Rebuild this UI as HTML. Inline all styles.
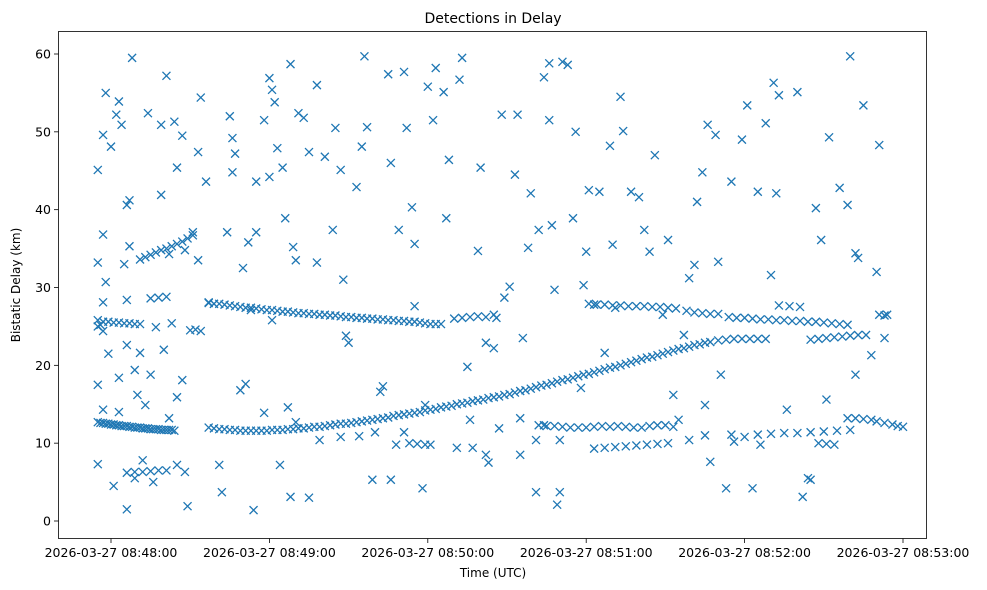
<!DOCTYPE html>
<html><head><meta charset="utf-8"><style>
html,body{margin:0;padding:0;background:#fff;}
svg{display:block;font-family:"DejaVu Sans","Liberation Sans",sans-serif;}
</style></head><body>
<svg id="chart" width="987" height="590" xmlns="http://www.w3.org/2000/svg">
<rect x="0" y="0" width="987" height="590" fill="#fff"/>
<text x="493" y="23" text-anchor="middle" font-size="14">Detections in Delay</text>
<g id="marks"></g>
<g id="axes"></g>
<text x="493" y="577" text-anchor="middle" font-size="12">Time (UTC)</text>
<text x="20" y="285" text-anchor="middle" font-size="12" transform="rotate(-90 20 285)">Bistatic Delay (km)</text>
</svg>
<script>
// seconds after 08:48:00, delay km
const mainTrack = [[-5,12.7],[-4,12.6],[-3,12.6],[-2,12.5],[-1,12.5],[0,12.4],[1,12.4],[2,12.3],[3,12.3],[4,12.2],[5,12.2],[6,12.2],[7,12.1],[8,12.1],[9,12.0],[10,12.0],[11,12.0],[12,11.9],[13,11.9],[14,11.9],[15,11.8],[16,11.8],[17,11.8],[18,11.8],[19,11.7],[20,11.7],[21,11.7],[22,11.7],[23,11.7],[24,11.6],
[37,12.0],[39,11.9],[41,11.8],[43,11.8],[45,11.7],[47,11.7],[49,11.6],[51,11.6],[53,11.6],[55,11.6],[57,11.6],[59,11.6],[61,11.7],[63,11.7],[65,11.7],[67,11.8],[69,11.8],[71,11.9],[73,11.9],[75,12.0],[77,12.1],[79,12.1],[81,12.2],[83,12.3],[85,12.4],[87,12.5],[89,12.5],[91,12.6],[93,12.7],[95,12.8],[97,12.9],[99,13.0],[101,13.1],[103,13.2],[105,13.3],[107,13.5],[109,13.6],[111,13.7],[113,13.8],[115,13.9],[117,14.0],[119,14.2],[121,14.3],[123,14.4],[125,14.6],[127,14.7],[129,14.8],[131,15.0],[133,15.1],[135,15.2],[137,15.4],[139,15.5],[141,15.6],[143,15.8],[145,15.9],[147,16.0],[149,16.2],[151,16.3],[153,16.5],[155,16.7],[157,16.8],[159,17.0],[161,17.2],[163,17.4],[165,17.5],[167,17.7],[169,17.9],[171,18.1],[173,18.2],[175,18.4],[177,18.6],[179,18.8],[181,18.9],[183,19.1],[185,19.3],[187,19.5],[189,19.7],[191,19.8],[193,20.0],[195,20.2],[197,20.4],[199,20.6],[201,20.8],[203,21.0],[205,21.1],[207,21.3],[209,21.5],[211,21.7],[213,21.9],[215,22.1],[217,22.2],[219,22.4],[221,22.6],[223,22.7],[225,22.9],[227,23.0],[230,23.2],[233,23.3],[236,23.4],[239,23.4],[242,23.4],[245,23.4],[248,23.4],[265,23.3],[268,23.4],[271,23.5],[274,23.6],[277,23.7],[280,23.8],[283,23.9],[286,23.9]];
const upperTrack = [[-5,25.8],[-3,25.6],[-1,25.6],[1,25.5],[3,25.5],[5,25.4],[7,25.4],[9,25.3],[11,25.3],[-5,25.0],[-4,25.2],
[11,33.6],[13,33.9],[15,34.2],[17,34.5],[19,34.8],[21,35.0],[23,35.3],[25,35.6],[27,35.9],[29,36.3],[31,36.7],
[15,28.6],[18,28.7],[21,28.8],[30,24.5],[32,24.6],[34,24.4],
[37,28.0],[39,27.9],[41,27.9],[43,27.8],[45,27.7],[47,27.6],[49,27.5],[51,27.4],[53,27.4],[55,27.3],[57,27.2],[59,27.1],[61,27.1],[63,27.0],[65,26.9],[67,26.9],[69,26.8],[71,26.7],[73,26.7],[75,26.6],[77,26.6],[79,26.5],[81,26.5],[83,26.4],[85,26.4],[87,26.3],[89,26.2],[91,26.2],[93,26.1],[95,26.1],[97,26.0],[99,26.0],[101,25.9],[103,25.9],[105,25.8],[107,25.8],[109,25.7],[111,25.7],[113,25.6],[115,25.6],[117,25.5],[119,25.4],[121,25.3],[123,25.3],[125,25.3],
[130,26.0],[133,26.1],[136,26.2],[139,26.3],[142,26.2],[145,26.5],
[181,27.9],[184,27.8],[187,27.8],[190,27.7],[193,27.7],[196,27.6],[199,27.6],[202,27.6],[205,27.5],[208,27.5],[211,27.4],[214,27.3],[218,27.0],[221,26.8],[224,26.7],[227,26.6],[230,26.6],
[234,26.2],[237,26.1],[240,26.1],[243,26.0],[246,25.9],[249,25.9],[252,25.8],[255,25.8],[258,25.7],[261,25.7],[264,25.6],[267,25.6],[270,25.5],[273,25.4],[276,25.3],[279,25.2],[253,27.7],[257,27.6],[261,27.5],[291,26.5],[293,26.4]];
const lowerTracks = [[162,12.3],[165,12.2],[168,12.2],[171,12.1],[174,12.0],[177,12.0],[180,12.0],[183,12.1],[186,12.2],[189,12.1],[192,12.2],[195,12.1],[198,12.0],[201,12.0],[204,12.2],[207,12.3],[210,12.3],[213,12.1],
[183,9.3],[187,9.4],[191,9.5],[195,9.6],[199,9.7],[203,9.8],[207,9.9],[211,10.0],[113,10.0],[116,9.9],[119,9.8],
[225,11.0],[235,11.1],[245,11.1],[250,11.2],[255,11.3],[260,11.3],[265,11.4],[270,11.5],[275,11.6],[280,11.7],[268,10.0],[271,9.9],[274,9.8],
[279,13.2],[282,13.2],[285,13.1],[288,13.0],[290,12.8],[293,12.6],[296,12.4],[298,12.2],[300,12.1],
[6,6.2],[9,6.3],[12,6.3],[15,6.4],[18,6.5],[21,6.5]];
const scatterPoints = [[-5,45.1],[-5,17.5],[-5,7.3],[-5,33.2],[-3,36.8],[-3,28.1],[-3,24.4],[-3,14.3],[-2,55.0],[-3,49.6],[-2,30.7],[-1,21.5],[0,48.1],[1,4.5],[2,52.2],[3,53.9],[4,50.9],[3,18.4],[3,14.0],[5,33.0],[6,40.6],[6,1.5],[7,35.3],[7,41.2],[8,59.5],[6,28.4],[6,22.6],[9,19.4],[9,5.5],[10,16.2],[11,21.6],[12,7.8],[13,14.9],[14,52.4],[15,18.8],[16,5.0],[17,24.9],[19,41.9],[19,50.9],[21,57.2],[20,22.0],[22,13.2],[22,34.3],[23,25.4],[24,51.3],[25,45.4],[25,15.9],[25,7.2],[27,49.5],[27,18.1],[28,6.3],[28,34.8],[29,1.9],[31,37.1],[33,47.4],[33,33.5],[34,54.4],[36,43.6],[37,28.1],[39,27.9],[41,7.2],[42,3.7],[44,37.1],[45,52.0],[46,44.8],[46,49.2],[47,47.2],[49,16.8],[50,32.5],[51,17.6],[52,35.8],[53,27.1],[54,1.4],[55,37.1],[55,43.6],[58,13.9],[58,51.5],[60,56.9],[60,44.2],[61,55.4],[61,25.8],[62,53.8],[63,47.9],[64,7.2],[65,45.4],[66,38.9],[67,14.6],[68,58.7],[68,3.1],[69,35.2],[70,33.5],[71,52.4],[73,51.8],[75,47.4],[75,3.0],[78,56.0],[78,33.2],[81,46.8],[84,37.4],[85,50.5],[87,45.1],[88,31.0],[89,23.8],[90,22.9],[93,42.9],[95,48.1],[96,59.7],[97,50.6],[99,5.3],[102,16.6],[103,17.3],[105,57.4],[106,46.0],[106,5.3],[109,37.4],[111,57.7],[112,50.5],[114,40.3],[115,35.6],[115,27.6],[118,4.2],[120,55.8],[122,51.5],[123,58.2],[126,55.1],[127,38.9],[128,46.4],[131,9.4],[132,56.7],[133,59.5],[135,19.8],[137,9.4],[139,34.7],[140,45.4],[142,22.9],[143,7.5],[145,22.2],[146,26.1],[148,52.2],[149,28.7],[151,30.1],[153,44.5],[154,52.2],[155,13.2],[156,23.5],[158,35.1],[159,42.1],[161,3.7],[162,37.4],[164,57.0],[166,51.5],[166,58.8],[167,38.0],[168,29.7],[169,2.1],[170,3.7],[171,59.0],[173,58.6],[175,38.9],[176,50.0],[178,17.1],[179,30.3],[180,34.6],[181,42.5],[183,27.8],[185,42.3],[187,21.6],[189,48.2],[190,35.5],[191,27.4],[193,54.5],[194,50.1],[197,42.3],[200,41.6],[202,37.4],[204,34.6],[206,47.0],[209,26.5],[211,36.1],[213,16.2],[215,13.0],[217,23.9],[219,31.2],[221,32.9],[222,41.0],[224,44.8],[226,50.9],[229,49.6],[230,33.3],[231,18.8],[233,4.2],[235,43.6],[239,49.0],[241,53.4],[243,4.2],[245,42.3],[248,51.1],[250,31.6],[251,56.3],[252,42.1],[253,54.7],[256,14.3],[260,55.1],[262,3.1],[265,5.3],[267,40.2],[269,36.1],[271,15.6],[272,49.3],[276,42.8],[279,40.6],[280,59.7],[282,34.4],[282,18.8],[285,53.4],[288,21.3],[290,32.0],[291,48.3],[293,23.5],[294,26.5],[283,33.8],
[70,12.7],[79,10.4],[87,10.8],[94,10.9],[100,11.4],[108,9.8],[111,11.4],[119,14.9],[121,9.8],[136,13.0],[142,8.5],[147,11.9],[155,8.5],[161,10.4],[164,12.3],[170,10.4],[219,10.4],[225,14.9],[227,7.6],[236,10.2],[240,10.8],[246,9.8],[264,5.5]];
const yTicks = [0,10,20,30,40,50,60];
const xTicks = [0,60,120,180,240,300];
const xTickLabels = ["2026-03-27 08:48:00","2026-03-27 08:49:00","2026-03-27 08:50:00","2026-03-27 08:51:00","2026-03-27 08:52:00","2026-03-27 08:53:00"];

const NS="http://www.w3.org/2000/svg";
function sx(t){return 111+t*(792/300);}
function sy(v){return 521-v*(467/60);}
function mk(tag,attrs,parent){const e=document.createElementNS(NS,tag);for(const k in attrs)e.setAttribute(k,attrs[k]);parent.appendChild(e);return e;}
const marks=document.getElementById('marks');
const axes=document.getElementById('axes');
[mainTrack,upperTrack,lowerTracks,scatterPoints].forEach(series=>{
  series.forEach(p=>{
    const x=sx(p[0]),y=sy(p[1]),r=4;
    const path=mk('path',{d:`M${x-r},${y-r}L${x+r},${y+r}M${x-r},${y+r}L${x+r},${y-r}`,stroke:'#1f77b4','stroke-width':1.3,fill:'none'},marks);
    
    
  });
});
const frame=mk('rect',{x:58.5,y:31.5,width:868,height:507,fill:'none',stroke:'#000','stroke-width':0.8},axes);


yTicks.forEach(v=>{
  const y=sy(v);
  mk('line',{x1:58.5,x2:54,y1:y,y2:y,stroke:'#000','stroke-width':0.8},axes);
  const t=mk('text',{x:51,y:y+4.5,'text-anchor':'end','font-size':12.5},axes);
  t.textContent=v;
  
  
});
xTicks.forEach((s,i)=>{
  const x=sx(s);
  mk('line',{x1:x,x2:x,y1:538.5,y2:543,stroke:'#000','stroke-width':0.8},axes);
  const t=mk('text',{x:x,y:557,'text-anchor':'middle','font-size':12.5},axes);
  t.textContent=xTickLabels[i];
  
  
});
</script>
</body></html>
